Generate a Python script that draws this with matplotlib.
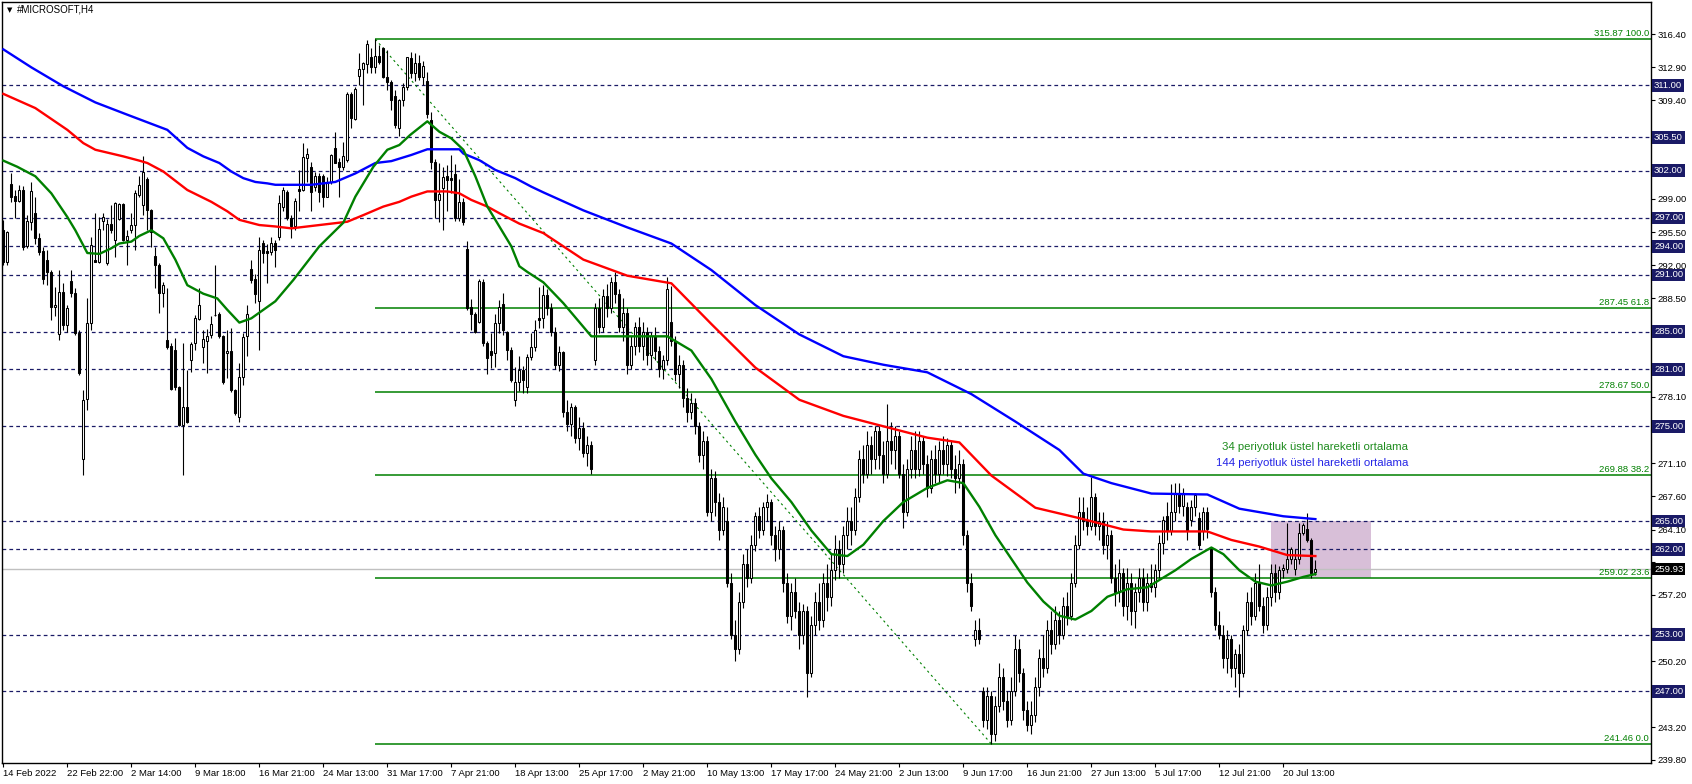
import matplotlib
matplotlib.use("Agg")
import matplotlib.pyplot as plt
import matplotlib.transforms as mtransforms
import numpy as np
from matplotlib.patches import Rectangle

plt.rcParams["font.family"] = ["Liberation Sans", "DejaVu Sans"]

# --- H4 candles, one entry per bar (bar index = position in list) ---
opens = [
    295.7, 292.3, 300.6, 299.3, 298.8, 300.0, 294.0, 296.6, 297.5, 294.85,
    293.55, 292.6, 291.3, 287.6, 284.7, 289.2, 285.7, 290.3, 289.1, 284.8,
    271.6, 277.85, 285.95, 292.6, 292.4, 296.7, 292.2, 296.4, 294.7, 296.9,
    298.5, 294.7, 295.7, 296.25, 299.4, 298.4, 301.1, 297.85, 292.99, 292.0,
    289.1, 284.1, 283.5, 283.1, 279.2, 275.1, 277.0, 282.0, 283.8, 286.3,
    283.4, 284.05, 284.6, 286.8, 286.9, 284.5, 282.7, 283.0, 278.8, 275.95,
    280.2, 284.5, 291.6, 290.6, 288.2, 294.4, 293.55, 293.45, 294.4, 295.0,
    298.2, 299.7, 297.0, 296.15, 300.1, 300.0, 303.35, 302.4, 300.3, 301.4,
    301.4, 299.25, 300.8, 304.35, 302.95, 302.4, 303.1, 310.1, 307.4, 312.0,
    312.7, 313.3, 313.96, 312.9, 314.1, 314.9, 311.85, 311.4, 309.9, 306.5,
    309.5, 310.8, 313.9, 312.3, 313.4, 311.9, 311.5, 307.3, 302.95, 298.9,
    300.2, 301.4, 301.2, 301.6, 296.96, 298.7, 293.7, 287.6, 286.9, 286.05,
    290.2, 283.8, 283.0, 282.7, 285.95, 287.9, 285.0, 283.06, 277.8, 279.7,
    280.95, 279.1, 282.3, 283.4, 286.4, 286.4, 288.9, 287.5, 285.0, 281.5,
    282.8, 276.5, 275.2, 277.0, 273.8, 274.8, 272.2, 273.0, 282.0, 287.5,
    285.5, 288.8, 287.5, 290.2, 289.0, 285.5, 287.0, 281.5, 283.5, 285.5,
    283.5, 285.0, 282.5, 284.5, 283.0, 281.0, 282.0, 286.0, 284.0, 280.5,
    281.5, 278.0, 276.5, 277.5, 275.0, 272.0, 273.5, 266.0, 269.5, 267.0,
    264.0, 265.0, 258.5, 253.0, 251.5, 256.5, 260.5, 259.0, 262.5, 265.5,
    264.0, 266.5, 267.0, 263.5, 262.0, 264.0, 258.5, 255.0, 257.5, 255.5,
    253.0, 255.5, 249.0, 254.0, 256.5, 254.5, 258.5, 257.0, 259.8, 262.0,
    260.5, 263.5, 265.0, 264.0, 267.5, 271.5, 270.0, 273.0, 271.5, 274.5,
    272.0, 270.0, 273.5, 272.5, 274.0, 270.0, 266.0, 270.5, 272.5, 270.5,
    273.5, 271.0, 268.5, 271.5, 270.0, 272.5, 271.0, 273.0, 270.5, 269.5,
    271.0, 263.5, 258.5, 252.5, 253.5, 247.0, 244.0, 246.5, 242.5, 245.5,
    248.5, 246.0, 244.0, 247.0, 251.5, 249.0, 245.0, 243.5, 244.5, 247.5,
    250.5, 249.5, 253.5, 252.0, 254.5, 253.0, 256.0, 255.0, 258.5, 262.5,
    266.0, 265.0, 264.5, 267.5, 264.5, 265.0, 262.5, 263.5, 259.0, 257.5,
    259.5, 256.0, 258.5, 255.5, 257.5, 259.0, 256.5, 258.5, 258.0, 259.83,
    262.65, 265.5, 263.9, 265.9, 267.9, 266.6, 266.5, 265.1, 266.5, 265.3,
    263.9, 266.0, 262.3, 257.5, 254.0, 253.0, 250.5, 252.5, 249.5, 251.0,
    249.0, 253.5, 256.5, 255.0, 258.5, 256.0, 254.0, 257.0, 259.5, 257.5,
    259.8, 259.9, 261.0, 259.9, 261.0, 263.7, 264.2, 263.0, 259.6,
]
highs = [
    296.8, 295.6, 301.7, 299.95, 300.5, 300.4, 297.3, 300.8, 299.25, 295.4,
    293.97, 293.6, 291.5, 289.75, 291.5, 290.1, 287.8, 291.5, 289.6, 285.2,
    278.8, 288.5, 295.0, 297.5, 297.1, 297.5, 296.9, 298.4, 298.7, 298.6,
    298.6, 295.7, 297.5, 299.95, 301.4, 303.5, 301.3, 297.9, 293.97, 292.2,
    290.25, 289.6, 283.8, 284.3, 279.3, 283.8, 280.95, 283.9, 286.75, 289.6,
    285.2, 285.25, 286.6, 292.0, 287.1, 284.6, 285.2, 285.35, 278.9, 281.65,
    284.8, 287.8, 292.6, 291.1, 295.0, 294.7, 294.3, 295.0, 294.7, 299.4,
    300.3, 299.95, 297.3, 299.1, 302.1, 304.9, 304.35, 302.95, 301.9, 301.7,
    301.6, 301.3, 303.8, 306.1, 303.3, 305.05, 310.3, 310.35, 310.8, 314.45,
    313.5, 315.8, 314.9, 315.87, 315.3, 315.1, 314.7, 311.6, 310.5, 309.6,
    311.2, 314.0, 314.5, 314.4, 314.2, 313.6, 312.4, 308.2, 303.2, 302.8,
    302.4, 302.6, 303.6, 302.7, 301.1, 299.07, 294.6, 288.4, 287.1, 290.6,
    290.6, 284.0, 284.8, 286.9, 288.3, 289.1, 285.1, 283.4, 281.3, 282.4,
    281.4, 282.6, 284.8, 286.2, 289.75, 289.9, 289.5, 288.0, 285.5, 283.5,
    283.0, 277.8, 277.5, 277.3, 276.0, 275.5, 274.0, 273.5, 288.0, 288.5,
    289.5, 290.0, 290.8, 291.3, 289.5, 288.5, 287.5, 284.5, 286.0, 286.5,
    286.0, 285.5, 285.0, 285.5, 283.5, 282.5, 290.8, 289.8, 284.5, 282.5,
    282.0, 279.0, 278.5, 278.0, 275.5, 274.5, 274.0, 270.5, 270.3, 268.0,
    267.5, 266.5, 259.5, 254.5, 257.5, 261.5, 262.0, 263.5, 266.0, 266.5,
    267.0, 267.8, 267.3, 264.5, 265.0, 264.5, 259.5, 258.5, 259.0, 256.5,
    256.2, 256.0, 255.0, 257.5, 258.5, 259.5, 260.5, 261.5, 263.5, 263.0,
    264.5, 266.5, 266.5, 268.5, 272.5, 273.0, 274.5, 274.0, 275.0, 275.0,
    273.5, 277.4, 275.5, 275.0, 274.5, 271.0, 271.5, 274.0, 274.5, 274.5,
    274.0, 272.0, 272.5, 273.0, 273.5, 274.0, 273.8, 273.5, 272.0, 272.5,
    271.5, 264.0, 259.5, 254.5, 254.8, 247.5, 247.5, 247.0, 246.5, 250.0,
    249.5, 247.0, 248.5, 253.0, 252.5, 249.5, 246.0, 246.0, 248.5, 251.5,
    253.0, 254.5, 255.5, 256.0, 255.5, 257.0, 257.5, 259.5, 263.5, 267.5,
    267.5, 266.5, 269.6, 268.0, 266.0, 266.0, 265.0, 264.0, 260.5, 261.0,
    260.0, 260.0, 259.5, 258.5, 260.0, 260.0, 259.5, 260.5, 260.5, 263.5,
    265.5, 267.0, 268.9, 269.0, 269.0, 268.5, 267.0, 267.2, 268.0, 266.0,
    266.5, 266.5, 262.3, 258.0, 255.5, 254.0, 253.5, 253.0, 251.5, 252.0,
    254.0, 257.5, 258.0, 259.5, 260.5, 257.0, 258.0, 260.5, 260.5, 260.2,
    260.5, 264.8, 262.3, 262.0, 264.8, 264.8, 265.8, 263.2, 260.9,
]
lows = [
    292.0, 292.0, 298.7, 296.96, 298.7, 293.6, 293.8, 295.7, 294.3, 293.1,
    290.0, 289.9, 286.2, 286.6, 284.1, 285.2, 285.0, 288.7, 284.6, 280.4,
    269.9, 276.7, 285.2, 292.3, 292.2, 295.7, 292.0, 295.4, 292.9, 296.8,
    294.6, 292.0, 295.4, 293.6, 299.2, 297.3, 295.7, 293.97, 289.6, 287.0,
    287.6, 283.2, 278.8, 278.8, 275.0, 269.9, 275.4, 280.7, 283.1, 286.2,
    281.65, 280.6, 284.3, 286.6, 284.3, 279.5, 280.1, 278.65, 276.2, 275.5,
    279.4, 282.4, 290.1, 288.0, 283.05, 292.2, 290.1, 293.1, 291.8, 294.7,
    297.7, 296.8, 294.85, 295.7, 297.7, 299.8, 300.8, 297.7, 299.8, 298.7,
    298.2, 299.2, 300.6, 302.8, 299.25, 302.1, 302.95, 306.5, 307.3, 311.0,
    308.9, 312.3, 312.3, 312.3, 313.3, 311.75, 310.5, 308.4, 306.5, 305.6,
    308.8, 310.5, 311.8, 311.5, 311.6, 311.0, 307.6, 302.2, 296.95, 296.6,
    295.7, 297.7, 299.6, 296.7, 296.7, 296.3, 287.3, 285.2, 284.8, 285.9,
    283.5, 280.5, 281.2, 281.3, 284.8, 284.6, 282.0, 279.7, 277.1, 278.7,
    278.5, 278.5, 282.0, 283.0, 285.35, 285.35, 286.8, 284.5, 281.0, 280.8,
    276.0, 274.5, 274.0, 273.2, 272.5, 271.8, 270.8, 270.0, 281.5, 284.8,
    285.0, 286.5, 287.0, 288.0, 285.0, 284.0, 280.5, 281.0, 282.5, 282.8,
    282.0, 281.5, 281.0, 282.0, 280.2, 280.0, 281.5, 283.5, 279.8, 279.0,
    277.0, 275.5, 275.8, 274.2, 271.2, 270.5, 265.5, 265.0, 265.5, 263.0,
    263.5, 258.0, 252.5, 250.2, 251.0, 255.8, 258.0, 258.5, 261.8, 263.2,
    263.5, 265.0, 262.5, 260.8, 261.0, 257.5, 254.2, 253.5, 254.8, 251.5,
    252.0, 246.4, 248.5, 253.0, 253.5, 253.8, 255.5, 256.0, 258.8, 259.0,
    259.5, 262.0, 262.5, 263.5, 267.0, 269.0, 269.5, 270.0, 270.5, 270.5,
    269.0, 269.5, 271.0, 270.5, 269.5, 264.3, 265.5, 269.5, 269.5, 269.8,
    270.0, 267.5, 268.0, 269.0, 269.0, 270.0, 269.8, 269.5, 268.0, 268.5,
    262.5, 257.5, 255.5, 251.8, 252.0, 243.2, 243.0, 241.46, 241.8, 244.8,
    245.0, 243.2, 243.5, 246.5, 248.0, 244.0, 242.8, 242.5, 243.8, 246.5,
    248.5, 249.0, 251.0, 251.5, 252.0, 252.5, 254.0, 254.5, 258.0, 262.0,
    264.0, 263.5, 264.0, 263.5, 263.0, 261.5, 261.0, 258.5, 256.0, 256.5,
    255.0, 254.5, 254.0, 253.7, 256.5, 255.5, 255.5, 257.5, 257.0, 259.0,
    261.5, 263.0, 263.5, 265.0, 265.8, 265.5, 263.0, 264.5, 265.5, 262.0,
    263.0, 263.2, 257.0, 253.5, 252.5, 249.5, 249.0, 248.5, 247.5, 246.4,
    248.5, 253.0, 254.0, 254.5, 255.5, 253.2, 253.5, 256.0, 256.5, 256.8,
    259.0, 259.5, 260.5, 259.3, 260.5, 263.5, 262.8, 259.0, 259.3,
]
closes = [
    292.4, 295.5, 299.25, 298.8, 300.0, 293.97, 296.7, 299.8, 294.85, 293.45,
    290.6, 291.3, 287.6, 287.8, 289.2, 285.7, 287.5, 289.05, 284.8, 280.6,
    277.8, 285.95, 294.15, 292.4, 295.8, 297.1, 296.4, 295.7, 298.6, 298.5,
    294.7, 295.1, 296.25, 299.6, 300.5, 301.9, 297.85, 295.55, 292.0, 289.1,
    289.9, 283.4, 278.9, 279.2, 275.1, 277.0, 275.5, 283.7, 286.4, 287.8,
    284.2, 284.5, 285.8, 286.7, 284.5, 279.7, 282.95, 278.8, 276.4, 280.2,
    284.4, 286.9, 290.45, 289.0, 293.6, 293.35, 293.35, 294.4, 293.6, 298.55,
    300.0, 297.0, 296.15, 298.8, 299.8, 303.4, 303.8, 299.7, 301.4, 299.7,
    299.25, 300.8, 303.65, 302.85, 302.35, 303.5, 310.1, 307.5, 310.6, 312.7,
    313.4, 315.4, 312.9, 314.1, 313.5, 311.85, 311.4, 309.5, 306.8, 309.5,
    310.8, 313.96, 312.3, 313.4, 311.9, 313.0, 308.0, 302.95, 298.9, 299.5,
    301.3, 301.0, 301.0, 296.96, 298.7, 296.6, 287.45, 286.9, 285.0, 290.3,
    283.8, 282.2, 282.5, 285.95, 287.6, 285.2, 283.06, 279.9, 279.7, 280.9,
    279.9, 282.3, 283.4, 285.2, 286.2, 288.9, 287.5, 285.0, 281.5, 282.8,
    276.5, 275.2, 277.0, 273.8, 274.8, 272.2, 273.0, 270.5, 287.5, 285.5,
    288.8, 287.5, 290.2, 289.0, 285.5, 287.0, 281.5, 283.5, 285.5, 283.5,
    285.0, 282.5, 284.5, 283.0, 281.0, 282.0, 289.5, 284.0, 280.5, 281.5,
    278.0, 276.5, 277.5, 275.0, 272.0, 273.5, 266.0, 269.5, 267.0, 264.0,
    266.5, 258.5, 253.0, 251.5, 256.5, 260.5, 259.0, 262.5, 265.5, 264.0,
    266.5, 267.0, 263.5, 262.0, 264.0, 258.5, 255.0, 257.5, 255.5, 253.0,
    255.5, 249.0, 254.0, 256.5, 254.5, 258.5, 257.0, 259.8, 262.0, 260.5,
    263.5, 265.0, 264.0, 267.5, 271.5, 270.0, 273.0, 271.5, 274.5, 272.0,
    270.0, 273.5, 272.5, 274.0, 270.0, 266.0, 270.5, 272.5, 270.5, 273.5,
    271.0, 268.5, 271.5, 270.0, 272.5, 271.0, 273.0, 270.5, 269.5, 271.0,
    263.5, 258.5, 256.0, 253.5, 252.5, 244.0, 246.5, 242.5, 245.5, 248.5,
    246.0, 244.0, 247.0, 251.5, 249.0, 245.0, 243.5, 244.5, 247.5, 250.5,
    249.5, 253.5, 252.0, 254.5, 253.0, 256.0, 255.0, 258.5, 262.5, 266.0,
    265.0, 264.5, 267.5, 264.5, 265.0, 262.5, 263.5, 259.0, 257.5, 259.5,
    256.0, 258.5, 255.5, 257.5, 259.0, 256.5, 258.5, 258.0, 259.8, 262.65,
    265.1, 263.9, 265.9, 267.9, 266.6, 267.9, 263.9, 266.5, 267.7, 262.5,
    266.0, 264.2, 257.5, 254.0, 253.0, 250.5, 252.5, 249.5, 251.0, 249.0,
    253.5, 256.5, 255.0, 258.5, 256.0, 254.0, 257.0, 259.5, 257.5, 259.8,
    260.0, 261.0, 262.0, 261.0, 263.7, 264.6, 263.0, 259.5, 259.93,
]

# --- moving averages at these bar positions ---
ema34_bars = [0, 3.5, 8, 12, 16, 18, 21, 24, 27, 29, 32, 34, 37, 40, 43, 46, 50, 53.5, 56, 59,
              62, 65, 68, 72.5, 79, 85, 88, 92.5, 96, 99, 101.7, 106, 109, 112, 115, 118, 121,
              124, 127, 129, 131, 135, 140, 147, 156, 166, 172, 177, 183, 188, 192, 197, 202,
              207, 211, 215, 220, 225, 231, 236, 240, 244, 248, 252, 256, 260, 264, 268, 272,
              276, 281, 286, 293, 297, 302, 305, 309, 313, 317, 321, 325, 328]
ema34_vals = [303.05, 302.4, 301.4, 299.6, 297.1, 295.7, 293.3, 293.2, 293.8, 294.3, 294.5,
              295.1, 295.7, 294.85, 292.6, 289.9, 289.0, 288.5, 287.3, 285.95, 286.4, 287.3,
              288.2, 290.45, 294.0, 296.5, 299.25, 302.4, 304.2, 304.7, 305.76, 307.2, 306.1,
              305.4, 304.2, 301.4, 298.2, 296.1, 294.0, 291.9, 291.3, 290.2, 288.0, 284.5,
              284.5, 284.5, 283.0, 280.0, 275.5, 272.0, 269.5, 267.0, 264.0, 261.5, 261.3,
              262.5, 265.0, 267.0, 268.5, 269.3, 269.0, 266.5, 263.5, 261.0, 258.5, 256.5,
              255.0, 254.6, 255.5, 257.0, 257.8, 258.0, 259.8, 261.0, 262.2, 261.5, 259.8,
              258.6, 258.2, 258.6, 259.1, 259.4]
ema_red_bars = [0, 8, 16, 20, 23, 27, 30, 34, 36, 40, 46, 52, 56, 59, 64, 68, 72, 79, 86, 90,
                95, 99, 102, 106, 111, 114, 117, 121, 124, 129, 135, 145, 156, 167, 177, 188,
                199, 210, 220, 231, 239, 247, 258, 269, 280, 287, 301, 307, 314, 321, 328]
ema_red_vals = [310.1, 308.6, 306.3, 304.9, 304.2, 303.8, 303.5, 303.05, 302.8, 301.9, 299.95,
                298.7, 297.7, 296.8, 296.25, 296.1, 295.9, 296.25, 296.6, 297.3, 298.2, 298.7,
                299.25, 299.8, 299.8, 299.6, 298.9, 298.2, 297.5, 296.4, 295.4, 292.6, 290.9,
                290.1, 285.8, 281.2, 277.8, 276.1, 275.0, 273.8, 273.3, 269.8, 266.4, 265.3,
                264.1, 263.9, 263.9, 263.0, 262.3, 261.4, 261.3]
ema144_bars = [0, 7, 15, 23, 31, 41, 46, 50, 54, 57, 60, 63, 66, 68, 77, 83, 88, 93, 97, 102,
               106, 114, 115, 119, 123, 128, 132, 135, 145, 156, 167, 177, 188, 199, 210, 220,
               231, 242, 253, 264, 270, 277, 287, 301, 309, 320, 328]
ema144_vals = [314.8, 312.9, 310.9, 309.2, 307.9, 306.3, 304.4, 303.5, 302.8, 301.9, 301.2,
               300.8, 300.65, 300.5, 300.5, 300.8, 301.7, 302.8, 303.0, 303.65, 304.25, 304.25,
               303.8, 303.1, 302.07, 301.2, 300.3, 299.7, 297.8, 296.0, 294.3, 291.5, 287.8,
               284.7, 282.4, 281.5, 280.7, 278.4, 275.5, 272.5, 270.0, 269.0, 267.9, 267.8,
               266.3, 265.5, 265.2]

# --- drawn objects ---
sr_levels = [311.0, 305.5, 302.0, 297.0, 294.0, 291.0, 285.0, 281.0, 275.0, 265.0, 262.0, 253.0, 247.0]
fib_levels = [315.87, 287.45, 278.67, 269.88, 259.02, 241.46]
fib_pcts = ["100.0", "61.8", "50.0", "38.2", "23.6", "0.0"]
fib_high_bar, fib_low_bar = 93, 247
box_bars = (317, 342)
box_prices = (259.02, 265.0)
last_price = 259.93

price_ticks = [316.40, 312.90, 309.40, 305.90, 302.40, 299.00, 295.50, 292.00, 288.50, 285.00,
               281.60, 278.10, 274.60, 271.10, 267.60, 264.10, 260.70, 257.20, 253.70, 250.20,
               246.70, 243.20, 239.80]
date_ticks = list(range(0, 321, 16))
date_labels = ["14 Feb 2022", "22 Feb 22:00", "2 Mar 14:00", "9 Mar 18:00", "16 Mar 21:00",
               "24 Mar 13:00", "31 Mar 17:00", "7 Apr 21:00", "18 Apr 13:00", "25 Apr 17:00",
               "2 May 21:00", "10 May 13:00", "17 May 17:00", "24 May 21:00", "2 Jun 13:00",
               "9 Jun 17:00", "16 Jun 21:00", "27 Jun 13:00", "5 Jul 17:00", "12 Jul 21:00",
               "20 Jul 13:00"]

W, H = 1692, 784
NAVY = "#1a1a66"
GREEN = "#008000"
fig = plt.figure(figsize=(W / 100, H / 100), dpi=100)
ax = fig.add_axes([2 / W, 21 / H, 1649 / W, 761 / H])
ax.set_xlim(-0.33, 411.9)
ax.set_ylim(239.45, 319.8)

o = np.array(opens)
h = np.array(highs)
lo = np.array(lows)
c = np.array(closes)
x = np.arange(len(c))

# background objects
ax.add_patch(Rectangle((box_bars[0], box_prices[0]), box_bars[1] - box_bars[0],
                       box_prices[1] - box_prices[0], facecolor="#D8BFD8", edgecolor="none", zorder=1))
ax.axhline(last_price, color="#c0c0c0", lw=1.0, zorder=1.5)
for lv in sr_levels:
    ax.axhline(lv, color=NAVY, lw=0.9, ls=(0, (3, 2.5)), zorder=2)
ax.hlines(fib_levels, fib_high_bar, 411.9, color=GREEN, lw=1.1, zorder=2)
ax.plot([fib_high_bar, fib_low_bar], [fib_levels[0], fib_levels[-1]], color=GREEN,
        lw=0.8, ls=(0, (2, 3)), zorder=2)

# candles
up = c >= o
ax.vlines(x, lo, h, color="black", lw=0.8, zorder=3)
ax.bar(x[up], (c - o)[up], bottom=o[up], width=0.55, facecolor="white",
       edgecolor="black", linewidth=0.75, zorder=4)
ax.bar(x[~up], (o - c)[~up], bottom=c[~up], width=0.55, facecolor="black",
       edgecolor="black", linewidth=0.75, zorder=4)

# moving averages
ax.plot(ema144_bars, ema144_vals, color="#0000ff", lw=1.7, zorder=5)
ax.plot(ema_red_bars, ema_red_vals, color="#ff0000", lw=1.7, zorder=5)
ax.plot(ema34_bars, ema34_vals, color=GREEN, lw=1.7, zorder=5)

ax.text(351.2, 272.77, "34 periyotluk üstel hareketli ortalama", ha="right", va="center",
        color="#1e8c1e", fontsize=8.2, zorder=6)
ax.text(351.2, 271.17, "144 periyotluk üstel hareketli ortalama", ha="right", va="center",
        color="#2424e6", fontsize=8.2, zorder=6)

# fib labels
blend = mtransforms.blended_transform_factory(ax.transAxes, ax.transData)
for lv, pct in zip(fib_levels, fib_pcts):
    ax.text(0.9988, lv + 0.12, f"{lv:.2f} {pct}", transform=blend, ha="right", va="bottom",
            color=GREEN, fontsize=6.8, zorder=6)

# axes styling
for sp in ax.spines.values():
    sp.set_color("black")
    sp.set_linewidth(1.0)
ax.yaxis.tick_right()
# price scale labels that sit under a level box are covered in the original
boxed = sr_levels + [last_price]
tick_text = [f"{v:.2f}" if min(abs(v - b) for b in boxed) > 0.85 else "" for v in price_ticks]
ax.set_yticks(price_ticks, tick_text)
ax.tick_params(axis="y", direction="out", length=3, pad=2, labelsize=6.8, colors="black")
ax.set_xticks(date_ticks, date_labels)
ax.tick_params(axis="x", direction="out", length=3, pad=1.5, labelsize=6.8, colors="black")
for t in ax.get_xticklabels():
    t.set_horizontalalignment("left")

# right-hand price boxes
box_tr = mtransforms.offset_copy(blend, fig=fig, x=3, y=0, units="dots")
for lv in sr_levels:
    ax.text(1.0, lv, f"{lv:.2f}", transform=box_tr, ha="left", va="center", color="white",
            fontsize=6.8, zorder=10, clip_on=False,
            bbox=dict(boxstyle="square,pad=0.18", facecolor=NAVY, edgecolor="none"))
ax.text(1.0, last_price, f"{last_price:.2f}", transform=box_tr, ha="left", va="center",
        color="white", fontsize=6.8, zorder=10, clip_on=False,
        bbox=dict(boxstyle="square,pad=0.18", facecolor="black", edgecolor="none"))

# title
fig.text(7 / W, 1 - 10 / H, "▼", fontsize=5, va="center", family="DejaVu Sans")
fig.text(17 / W, 1 - 10 / H, "#MICROSOFT,H4", fontsize=7, va="center")

fig.savefig("out.png", dpi=100)
